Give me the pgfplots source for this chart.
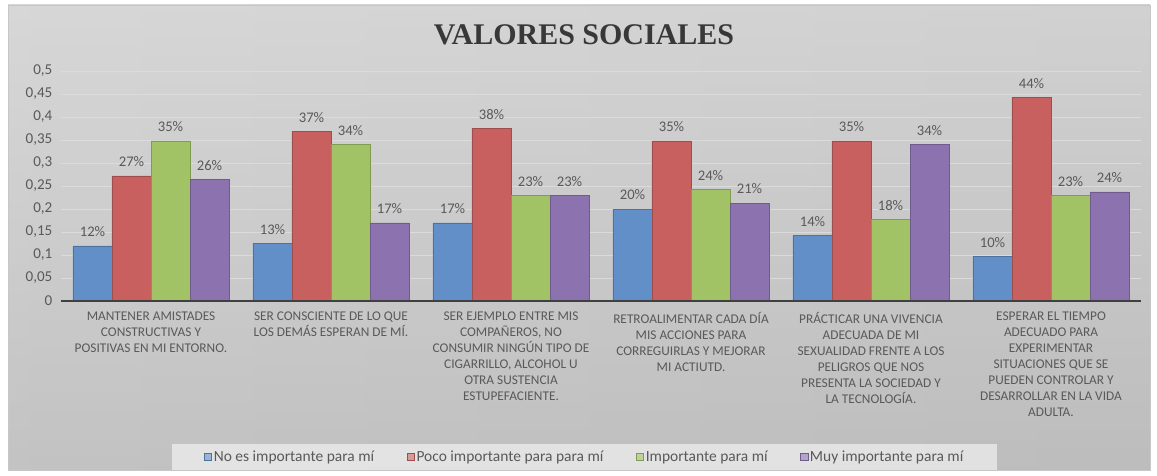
\documentclass[border=0pt]{standalone}
\usepackage{pgfplots}
\pgfplotsset{compat=1.18}
\usepackage{fontspec}
\setmainfont{Carlito}
\newfontfamily\titlefont{Liberation Serif}
\definecolor{cblue}{RGB}{98,143,200}
\definecolor{cred}{RGB}{200,96,96}
\definecolor{cgreen}{RGB}{162,194,102}
\definecolor{cpurple}{RGB}{140,115,175}
\definecolor{txt}{RGB}{89,89,89}
\begin{document}
\begin{tikzpicture}[x=0.75pt,y=0.75pt]
\fill[white] (0,0) rectangle (1157,475);
\shade[left color=black!26, middle color=white, right color=black!30] (8,5) rectangle (1150,470);
\shade[top color=white, bottom color=black!20, opacity=0.4] (8,5) rectangle (1150,470);
\draw[black!22] (8,5) rectangle (1150,470);
\node[font=\titlefont\bfseries\fontsize{22.5}{26}\selectfont, text=black!78] at (584,440) {VALORES SOCIALES};
\begin{axis}[
  at={(45.75pt,130.5pt)}, anchor=south west,
  scale only axis, width=810pt, height=172.5pt,
  ybar=0pt, bar width=0.2167,
  xmin=-0.5, xmax=5.5, ymin=0, ymax=0.5,
  axis line style={draw=none},
  tick style={draw=none},
  ytick={0,0.05,...,0.51},
  yticklabel={\pgfmathprintnumber[assume math mode=true,fixed,use comma,precision=2]{\tick}},
  yticklabel style={font=\fontsize{11.3}{13}\selectfont, text=txt, xshift=-3pt},
  ymajorgrids, grid style={draw=black!14, line width=0.7pt},
  xtick={0,...,5},
  xticklabels={
    {MANTENER AMISTADES\\CONSTRUCTIVAS Y\\POSITIVAS EN MI ENTORNO.},
    {SER CONSCIENTE DE LO QUE\\LOS DEMÁS ESPERAN DE MÍ.},
    {SER EJEMPLO ENTRE MIS\\COMPAÑEROS, NO\\CONSUMIR NINGÚN TIPO DE\\CIGARRILLO, ALCOHOL U\\OTRA SUSTENCIA\\ESTUPEFACIENTE.},
    {RETROALIMENTAR CADA DÍA\\MIS ACCIONES PARA\\CORREGUIRLAS Y MEJORAR\\MI ACTIUTD.},
    {PRÁCTICAR UNA VIVENCIA\\ADECUADA DE MI\\SEXUALIDAD FRENTE A LOS\\PELIGROS QUE NOS\\PRESENTA LA SOCIEDAD Y\\LA TECNOLOGÍA.},
    {ESPERAR EL TIEMPO\\ADECUADO PARA\\EXPERIMENTAR\\SITUACIONES QUE SE\\PUEDEN CONTROLAR Y\\DESARROLLAR EN LA VIDA\\ADULTA.}},
  xticklabel style={align=center, font=\fontsize{10}{12}\selectfont, text=txt, anchor=north, yshift=-0.5pt,
    execute at begin node={\vphantom{ÁÍ}}},
  nodes near coords,
  point meta=explicit symbolic,
  every node near coord/.append style={font=\fontsize{11}{13}\selectfont, text=txt, anchor=south, yshift=3.2pt},
  legend columns=4,
  legend style={at={(0.485,-0.679)}, anchor=center, draw=none, fill=white, fill opacity=0.55, text opacity=1,
    font=\fontsize{11.6}{13}\selectfont, text=txt, inner xsep=24pt, inner ysep=3pt,
    /tikz/every even column/.append style={column sep=23pt},
    nodes={inner xsep=1.5pt}},
  legend image code/.code={\fill[#1] (0pt,-2.6pt) rectangle (5.4pt,2.8pt);},
]
\addplot[fill=cblue, draw=cblue!80!black, line width=0.3pt] coordinates {(0,0.12) [12\%] (1,0.126) [13\%] (2,0.17) [17\%] (3,0.20) [20\%] (4,0.142) [14\%] (5,0.097) [10\%]};
\addplot[fill=cred, draw=cred!80!black, line width=0.3pt] coordinates {(0,0.272) [27\%] (1,0.369) [37\%] (2,0.376) [38\%] (3,0.348) [35\%] (4,0.348) [35\%] (5,0.443) [44\%]};
\addplot[fill=cgreen, draw=cgreen!80!black, line width=0.3pt] coordinates {(0,0.348) [35\%] (1,0.34) [34\%] (2,0.229) [23\%] (3,0.243) [24\%] (4,0.178) [18\%] (5,0.229) [23\%]};
\addplot[fill=cpurple, draw=cpurple!80!black, line width=0.3pt] coordinates {(0,0.265) [26\%] (1,0.17) [17\%] (2,0.229) [23\%] (3,0.213) [21\%] (4,0.34) [34\%] (5,0.237) [24\%]};
\legend{No es importante para mí, Poco importante para para mí, Importante para mí, Muy importante para mí}
\draw[black!75, line width=1.4pt] (rel axis cs:0,0) -- (rel axis cs:1,0);
\end{axis}
\end{tikzpicture}
\end{document}
